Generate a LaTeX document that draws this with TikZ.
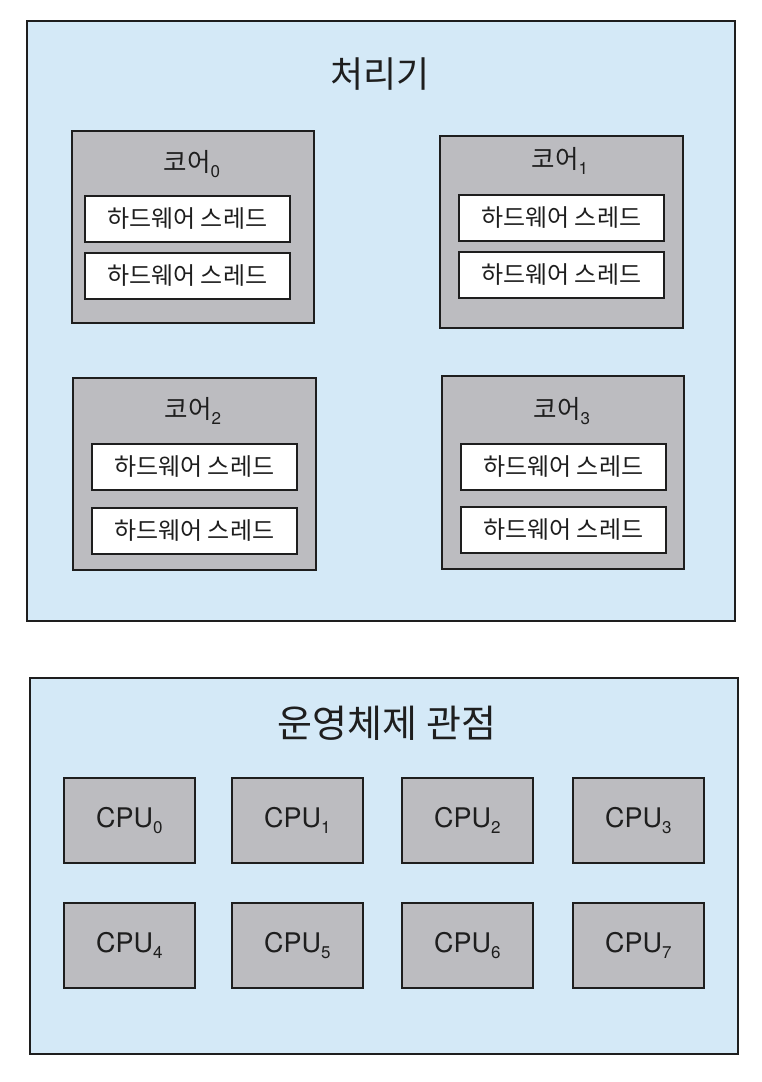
\documentclass[tikz,border=0pt]{standalone}
\usepackage{fontspec}
\setmainfont{TeX Gyre Heros}
\newfontfamily\kr{Noto Sans CJK KR}
\definecolor{panelblue}{RGB}{212,233,247}
\definecolor{coregray}{RGB}{188,188,192}
\definecolor{inkline}{RGB}{30,30,30}
\tikzset{
  panel/.style={draw=inkline, line width=1.5pt, fill=panelblue, anchor=north west, inner sep=0pt},
  corebox/.style={draw=inkline, line width=1.5pt, fill=coregray, anchor=north west, inner sep=0pt},
  threadbox/.style={draw=inkline, line width=1.5pt, fill=white, anchor=north west, inner sep=0pt, minimum height=46pt, minimum width=205pt},
  threadtxt/.style={font=\kr\fontsize{24}{26}\selectfont, text=inkline},
  titletxt/.style={font=\kr\fontsize{36}{40}\selectfont, text=inkline},
  coretxt/.style={font=\kr\fontsize{25.5}{28}\selectfont, text=inkline},
  cpubox/.style={draw=inkline, line width=1.5pt, fill=coregray, anchor=north west, inner sep=0pt, minimum width=131pt, minimum height=85pt, font=\fontsize{27}{30}\selectfont, text=inkline},
}
\newcommand{\sbs}[1]{\raisebox{-0.22em}{\fontsize{17}{19}\selectfont #1}}
\begin{document}
\begin{tikzpicture}[x=1pt,y=-1pt]
\useasboundingbox (0,0) rectangle (762,1082);
% top panel
\node[panel, minimum width=708pt, minimum height=600pt] (proc) at (26,20) {};
\node[titletxt] (proct) at (380,74) {처리기};
% cores
\node[corebox, minimum width=242pt, minimum height=192pt] (c0) at (71,130) {};
\node[corebox, minimum width=243pt, minimum height=192pt] (c1) at (439,135) {};
\node[corebox, minimum width=243pt, minimum height=192pt] (c2) at (72,377) {};
\node[corebox, minimum width=242pt, minimum height=193pt] (c3) at (441,375) {};
\node[coretxt] (c0t) at (192,164) {코어\sbs{\rmfamily 0}};
\node[coretxt] (c1t) at (560,161) {코어\sbs{\rmfamily 1}};
\node[coretxt] (c2t) at (193,411) {코어\sbs{\rmfamily 2}};
\node[coretxt] (c3t) at (562,411) {코어\sbs{\rmfamily 3}};
% threads
\node[threadbox] (t0a) at (84,195) {};
\node[threadbox] (t0b) at (84,252) {};
\node[threadbox] (t1a) at (458,194) {};
\node[threadbox] (t1b) at (458,251) {};
\node[threadbox] (t2a) at (91,443) {};
\node[threadbox] (t2b) at (91,507) {};
\node[threadbox] (t3a) at (460,443) {};
\node[threadbox] (t3b) at (460,506) {};
\foreach \n in {t0a,t0b,t1a,t1b,t2a,t2b,t3a,t3b}{
  \node[threadtxt] at (\n.center) {하드웨어 스레드};
}
% bottom panel
\node[panel, minimum width=708pt, minimum height=376pt] (os) at (29,677) {};
\node[titletxt, font=\kr\fontsize{38}{42}\selectfont] (ost) at (387,723) {운영체제 관점};
\node[cpubox] (p0) at (63,777) {CPU\sbs{0}};
\node[cpubox] (p1) at (231,777) {CPU\sbs{1}};
\node[cpubox] (p2) at (401,777) {CPU\sbs{2}};
\node[cpubox] (p3) at (572,777) {CPU\sbs{3}};
\node[cpubox] (p4) at (63,902) {CPU\sbs{4}};
\node[cpubox] (p5) at (231,902) {CPU\sbs{5}};
\node[cpubox] (p6) at (401,902) {CPU\sbs{6}};
\node[cpubox] (p7) at (572,902) {CPU\sbs{7}};
\end{tikzpicture}
\end{document}
